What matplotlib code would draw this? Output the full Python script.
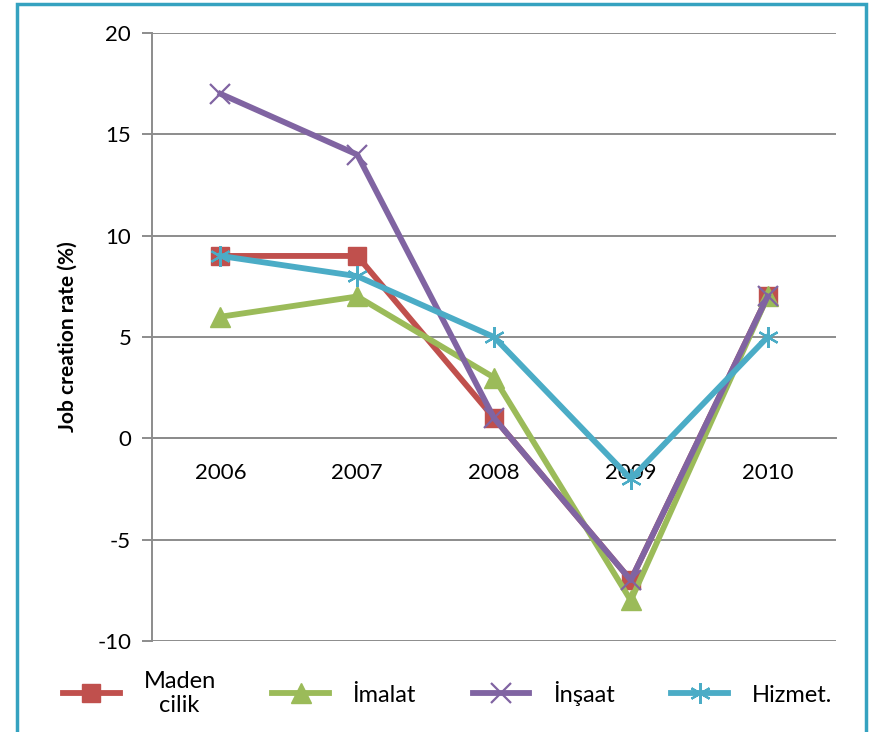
import matplotlib.pyplot as plt
from matplotlib.patches import Rectangle

plt.rcParams['font.family'] = ['Lato', 'DejaVu Sans']
plt.rcParams['axes.unicode_minus'] = False

years = ['2006', '2007', '2008', '2009', '2010']
maden = [9, 9, 1, -7, 7]
imalat = [6, 7, 3, -8, 7]
insaat = [17, 14, 1, -7, 7]
hizmet = [9, 8, 5, -2, 5]

fig = plt.figure(figsize=(8.69, 7.32), dpi=100)
ax = fig.add_axes([0.175, 0.1243, 0.787, 0.8306])

x = range(len(years))
lw = 4.2
ax.plot(x, maden, color='#C0504D', lw=lw, marker='s', ms=13, label='Maden\ncilik', zorder=3)
ax.plot(x, imalat, color='#9BBB59', lw=lw, marker='^', ms=14, label='İmalat', zorder=3)
ax.plot(x, insaat, color='#8064A2', lw=lw, marker='x', ms=15, mew=1.6, label='İnşaat', zorder=3)
ax.plot(x, hizmet, color='#4BACC6', lw=lw, marker=(6, 2, 0), ms=15, mew=1.6, label='Hizmet.', zorder=3)

ax.set_xlim(-0.5, 4.5)
ax.set_ylim(-10, 20)
ax.set_yticks(range(-10, 21, 5))
ax.set_xticks(list(x))
ax.set_xticklabels(years)
ax.yaxis.grid(True, color='#8C8C8C', lw=1.4)
ax.set_axisbelow(True)

for s in ['top', 'right']:
    ax.spines[s].set_visible(False)
ax.spines['left'].set_color('#8C8C8C')
ax.spines['left'].set_linewidth(1.4)
ax.spines['bottom'].set_position(('data', 0))
ax.spines['bottom'].set_color('#8C8C8C')
ax.spines['bottom'].set_linewidth(1.4)

ax.tick_params(axis='x', length=0, pad=18, labelsize=16)
ax.tick_params(axis='y', length=7, width=1.4, color='#8C8C8C', labelsize=16, pad=8)
ax.set_ylabel('Job creation rate (%)', fontsize=15, fontweight='bold', labelpad=14)

leg = fig.legend(loc='center', bbox_to_anchor=(0.515, 0.053), ncol=4, frameon=False,
                 fontsize=17, handlelength=2.4, columnspacing=2.4, handletextpad=1.0)
leg.get_texts()[0].set_multialignment('center')

fig.patches.append(Rectangle((17 / 869, -0.05), (866 - 17) / 869, 1 - 4 / 732 + 0.05,
                             transform=fig.transFigure, fill=False,
                             edgecolor='#35A2C0', lw=2.5))

fig.savefig('out.png', dpi=100)
